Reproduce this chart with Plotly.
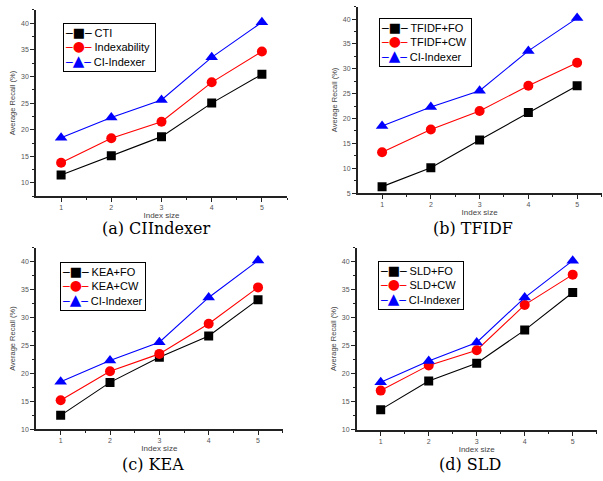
import plotly.graph_objects as go

W, H = 603, 481

index_size = [1, 2, 3, 4, 5]

cti = [11.5, 15.1, 18.7, 25.0, 30.4]
indexability = [13.8, 18.4, 21.5, 28.9, 34.7]
ci_indexer = [18.5, 22.3, 25.6, 33.6, 40.2]

tfidf_fo = [6.3, 10.1, 15.7, 21.2, 26.6]
tfidf_cw = [13.2, 17.8, 21.5, 26.6, 31.2]

kea_fo = [12.5, 18.4, 22.9, 26.7, 33.2]
kea_cw = [15.2, 20.4, 23.5, 28.9, 35.4]

sld_fo = [13.6, 18.7, 21.9, 27.8, 34.5]
sld_cw = [17.0, 21.5, 24.2, 32.3, 37.7]

panels = [
    dict(caption="(a) CIIndexer", names=["CTI", "Indexability", "CI-Indexer"],
         series=[cti, indexability, ci_indexer], px=(36, 287), py=(10, 197.5),
         yr=[7.5, 42.5], leg=(63, 23, 95), cap=(156, 230)),
    dict(caption="(b) TFIDF", names=["TFIDF+FO", "TFIDF+CW", "CI-Indexer"],
         series=[tfidf_fo, tfidf_cw, ci_indexer], px=(357.7, 601.5), py=(6.7, 194.3),
         yr=[5, 42.5], leg=(379, 17.7, 95), cap=(473, 230)),
    dict(caption="(c) KEA", names=["KEA+FO", "KEA+CW", "CI-Indexer"],
         series=[kea_fo, kea_cw, ci_indexer], px=(36, 282.7), py=(249.3, 432),
         yr=[10, 42.5], leg=(60, 263.3, 88), cap=(152.5, 467)),
    dict(caption="(d) SLD", names=["SLD+FO", "SLD+CW", "CI-Indexer"],
         series=[sld_fo, sld_cw, ci_indexer], px=(356.7, 596.7), py=(249.3, 432.5),
         yr=[10, 42.5], leg=(377.7, 262.7, 88), cap=(470, 467)),
]

colors = ["#000000", "#ff0000", "#0000ff"]
symbols = ["square", "circle", "triangle-up"]
glyphs = ["\u25a0", "\u25cf", "\u25b2"]
glyph_px = [13, 14, 15]
msizes = [9, 10, 11]

fig = go.Figure()
layout = dict(width=W, height=H, margin=dict(l=0, r=0, t=0, b=0),
              paper_bgcolor="white", plot_bgcolor="white", showlegend=False,
              annotations=[])

for i, p in enumerate(panels):
    k = "" if i == 0 else str(i + 1)
    for j in range(3):
        fig.add_trace(go.Scatter(
            x=index_size, y=p["series"][j], name=p["names"][j],
            mode="lines+markers",
            line=dict(color=colors[j], width=1.1),
            marker=dict(symbol=symbols[j], size=msizes[j], color=colors[j]),
            xaxis="x" + k, yaxis="y" + k,
        ))
    x0, x1 = p["px"]
    y0, y1 = p["py"]
    axcommon = dict(showgrid=False, zeroline=False, showline=True,
                    linecolor="#222", linewidth=1.5, ticks="outside",
                    ticklen=4, tickwidth=1, tickcolor="#222",
                    tickfont=dict(family="Arial, Liberation Sans", size=7, color="#555"))
    layout["xaxis" + k] = dict(
        domain=[x0 / W, x1 / W], range=[0.5, 5.5], anchor="y" + k,
        tickmode="array", tickvals=index_size, ticktext=[str(v) for v in index_size],
        minor=dict(ticks="outside", ticklen=2, tickvals=[1.5, 2.5, 3.5, 4.5, 5.5], tickcolor="#222"),
        title=dict(text="Index size", font=dict(family="Arial, Liberation Sans", size=8, color="#444"), standoff=1),
        **axcommon)
    layout["yaxis" + k] = dict(
        domain=[1 - y1 / H, 1 - y0 / H], range=p["yr"], anchor="x" + k,
        dtick=5, tick0=0,
        minor=dict(ticks="outside", ticklen=2, dtick=2.5, tick0=0, tickcolor="#222"),
        title=dict(text="Average Recall (%)", font=dict(family="Arial, Liberation Sans", size=7.5, color="#444"), standoff=4),
        **axcommon)
    # legend box drawn as a text block
    lx, ly, lw = p["leg"]
    rows = []
    for j in range(3):
        rows.append(
            '<span style="font-family:DejaVu Sans;font-size:11px;fill:%s">\u2500</span>'
            '<span style="font-family:DejaVu Sans;font-size:%dpx;fill:%s">%s</span>'
            '<span style="font-family:DejaVu Sans;font-size:11px;fill:%s">\u2500</span> %s'
            % (colors[j], glyph_px[j], colors[j], glyphs[j], colors[j], p["names"][j]))
    layout["annotations"].append(dict(
        text="<br>".join(rows), x=lx / W, y=1 - ly / H, xref="paper", yref="paper",
        xanchor="left", yanchor="top", showarrow=False, align="left",
        width=lw - 6, borderpad=1, borderwidth=1, bordercolor="#000",
        bgcolor="white",
        font=dict(family="Arial, Liberation Sans", size=11, color="#000")))
    cx, cy = p["cap"]
    layout["annotations"].append(dict(
        text=p["caption"], x=cx / W, y=1 - cy / H, xref="paper", yref="paper",
        xanchor="center", yanchor="middle", showarrow=False,
        font=dict(family="DejaVu Serif", size=16, color="#000")))

fig.update_layout(**layout)
fig.write_html("out.html", post_script="document.body.style.margin='0';",
               config={"displayModeBar": False})
